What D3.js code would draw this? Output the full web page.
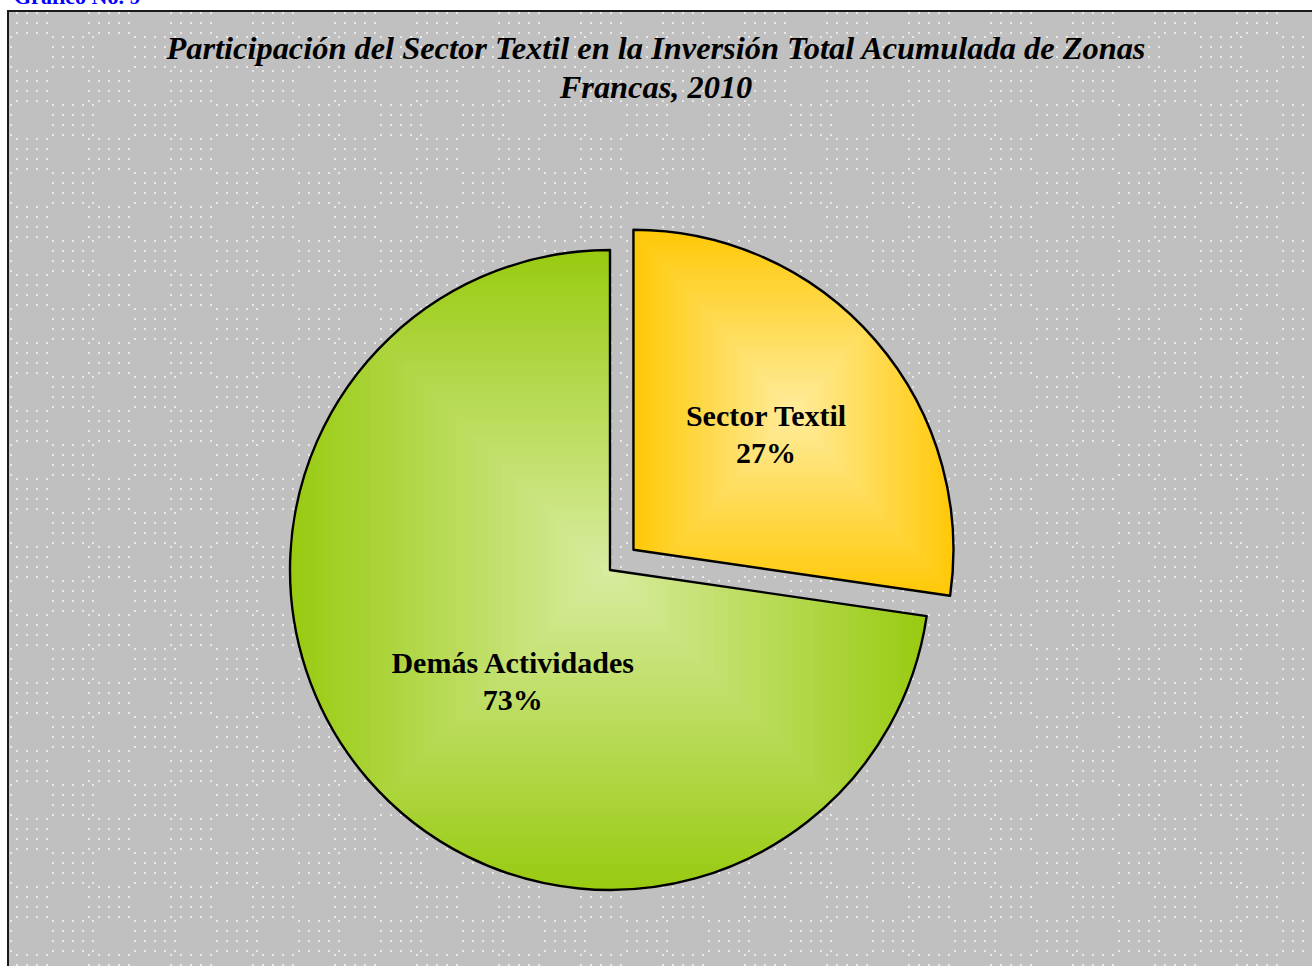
<!DOCTYPE html>
<html>
<head>
<meta charset="utf-8">
<script src="https://cdn.jsdelivr.net/npm/d3@7"></script>
<style>
  body { margin: 0; background: #ffffff; }
  svg { display: block; }
</style>
</head>
<body>
<div id="vis"></div>
<script>
const categories = ["Sector Textil", "Demás Actividades"];
const values = [27.3, 72.7];
const explodeFlags = [true, false];
const edgeColors = ["#ffc908", "#99cb12"];
const centerColors = ["#ffec9c", "#d8eb9e"];
const titleLines = [
    "Participación del Sector Textil en la Inversión Total Acumulada de Zonas",
    "Francas, 2010"
];
const chartTag = "Gráfico No. 9";

const FRAME_WIDTH = 1312;
const FRAME_HEIGHT = 966;
const CX = 610, CY = 570, RADIUS = 320, EXPLODE = 31;
const LABEL_R = [0.548, 0.46]; // label distance, fraction of radius
const LABEL_NUDGE = [[0, 0], [14, 16]];
const STEPS = 48;
const SERIF = "'Liberation Serif', 'Times New Roman', serif";

const svg = d3.select("#vis")
    .append("svg")
    .attr("width", FRAME_WIDTH)
    .attr("height", FRAME_HEIGHT);

const defs = svg.append("defs");

// dotted background texture
const pat = defs.append("pattern")
    .attr("id", "dots")
    .attr("patternUnits", "userSpaceOnUse")
    .attr("x", 6).attr("y", 2)
    .attr("width", 82).attr("height", 68);
pat.append("rect").attr("width", 82).attr("height", 68).attr("fill", "#c0c0c0");
const dotPos = [];
[0, 10, 20, 30, 40].forEach(x => [0, 10, 20, 30].forEach(y => dotPos.push([x, y])));
[4, 46, 56, 66, 76].forEach(x => [34, 44, 54, 64].forEach(y => dotPos.push([x, y])));
pat.selectAll("rect.dot")
    .data(dotPos)
    .enter()
    .append("rect")
    .attr("class", "dot")
    .attr("x", d => d[0]).attr("y", d => d[1])
    .attr("width", 2).attr("height", 2)
    .attr("fill", "#e8e8e8");

// small caption above the frame (cut off at top, as in the original)
svg.append("text")
    .attr("x", 14).attr("y", 4)
    .attr("font-family", SERIF)
    .attr("font-weight", "bold")
    .attr("font-size", "22px")
    .attr("fill", "#0000ff")
    .text(chartTag);

// chart area
svg.append("rect")
    .attr("x", 8).attr("y", 11)
    .attr("width", FRAME_WIDTH).attr("height", FRAME_HEIGHT)
    .attr("fill", "url(#dots)")
    .attr("stroke", "#1a1a1a")
    .attr("stroke-width", 2);

// title
svg.append("text")
    .attr("x", 656).attr("y", 59)
    .attr("text-anchor", "middle")
    .attr("font-family", SERIF)
    .attr("font-weight", "bold")
    .attr("font-style", "italic")
    .attr("font-size", "32.4px")
    .attr("fill", "#000")
    .selectAll("tspan")
    .data(titleLines)
    .enter()
    .append("tspan")
    .attr("x", 656)
    .attr("dy", (d, i) => i === 0 ? 0 : 39)
    .text(d => d);

const pie = d3.pie().sort(null).value(d => d);
const arcs = pie(values);
const arc = d3.arc().innerRadius(0).outerRadius(RADIUS);
const total = d3.sum(values);
const pct = d3.format(".0%");

const slices = svg.selectAll("g.slice")
    .data(arcs)
    .enter()
    .append("g")
    .attr("class", "slice")
    .attr("transform", (d, i) => {
        const mid = (d.startAngle + d.endAngle) / 2;
        const off = explodeFlags[i] ? EXPLODE : 0;
        return "translate(" + (CX + off * Math.sin(mid)) + "," + (CY - off * Math.cos(mid)) + ")";
    });

slices.each(function (d, i) {
    const g = d3.select(this);
    const clipId = "clip" + i;
    defs.append("clipPath").attr("id", clipId)
        .append("path").attr("d", arc(d));

    // outline path, used also to measure the slice box
    const outline = g.append("path").attr("d", arc(d)).attr("fill", "none");
    const bb = outline.node().getBBox();
    const gx = bb.x + bb.width / 2, gy = bb.y + bb.height / 2;
    const color = d3.interpolateRgb(edgeColors[i], centerColors[i]);

    // rectangular "from centre" gradient, as nested boxes
    const fill = g.insert("g", "path").attr("clip-path", "url(#" + clipId + ")");
    fill.selectAll("rect")
        .data(d3.range(STEPS))
        .enter()
        .append("rect")
        .attr("x", k => gx - bb.width / 2 * (1 - k / STEPS))
        .attr("y", k => gy - bb.height / 2 * (1 - k / STEPS))
        .attr("width", k => bb.width * (1 - k / STEPS))
        .attr("height", k => bb.height * (1 - k / STEPS))
        .attr("fill", k => color(k / (STEPS - 1)));

    outline.attr("stroke", "#000").attr("stroke-width", 2.4).attr("stroke-linejoin", "round");

    const lr = RADIUS * LABEL_R[i];
    const c = d3.arc().innerRadius(lr).outerRadius(lr).centroid(d);
    const lx = c[0] + LABEL_NUDGE[i][0], ly = c[1] + LABEL_NUDGE[i][1];
    g.append("text")
        .attr("x", lx).attr("y", ly)
        .attr("text-anchor", "middle")
        .attr("font-family", SERIF)
        .attr("font-weight", "bold")
        .attr("font-size", "30px")
        .attr("fill", "#000")
        .selectAll("tspan")
        .data([categories[i], pct(d.data / total)])
        .enter()
        .append("tspan")
        .attr("x", lx)
        .attr("dy", (t, j) => j === 0 ? -9 : 37)
        .text(t => t);
});
</script>
</body>
</html>
